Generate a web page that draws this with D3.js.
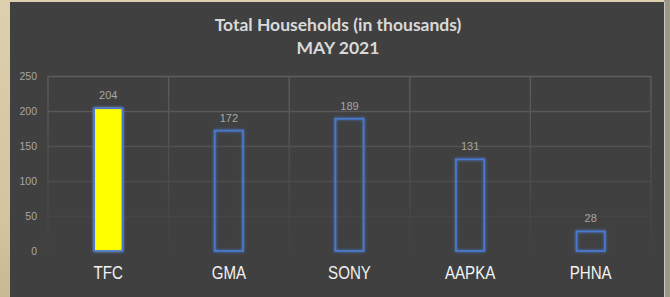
<!DOCTYPE html>
<html lang="en">
<head>
<meta charset="UTF-8">
<script src="https://d3js.org/d3.v7.min.js"></script>
<style>
  body { margin: 0; background: #d6c8a6; }
  svg { display: block; }
  .y-axis text { font-family: "Liberation Sans", Arial, sans-serif; font-size: 10.5px; fill: #a6a6a6; }
  .x-axis text { font-family: "Liberation Sans Narrow", "Arial Narrow", "Liberation Sans", sans-serif; font-size: 18px; fill: #f2f2f2; }
  .label { font-family: "Liberation Sans", Arial, sans-serif; font-size: 11px; fill: #a6a6a6; }
  .title { font-family: Lato, "Open Sans", sans-serif; font-weight: bold; font-size: 17.5px; fill: #d9d9d9; }
</style>
</head>
<body>
<svg id="graph"></svg>
<script>
  const categories = ["TFC", "GMA", "SONY", "AAPKA", "PHNA"];
  const households = [204, 172, 189, 131, 28];
  const highlighted = ["TFC"];
  const yTicks = [0, 50, 100, 150, 200, 250];
  const titleLines = ["Total Households (in thousands)", "MAY 2021"];

  const svgWidth = 670, svgHeight = 297;
  const margin = { top: 76, right: 19, bottom: 46, left: 48 };
  const width = svgWidth - margin.left - margin.right;
  const height = svgHeight - margin.top - margin.bottom;

  const svg = d3.select("#graph").attr("width", svgWidth).attr("height", svgHeight);
  const defs = svg.append("defs");

  // background (textured wall behind the slide)
  const bg = defs.append("linearGradient").attr("id", "bg").attr("x1", 0).attr("y1", 0).attr("x2", 0).attr("y2", 1);
  bg.append("stop").attr("offset", 0).attr("stop-color", "#ddd0ae");
  bg.append("stop").attr("offset", 0.75).attr("stop-color", "#d3c39f");
  bg.append("stop").attr("offset", 1).attr("stop-color", "#c9b892");
  svg.append("rect").attr("width", svgWidth).attr("height", svgHeight).attr("fill", "url(#bg)");
  svg.append("rect").attr("x", 664).attr("width", 6).attr("height", svgHeight).attr("fill", "#9f9786");
  svg.append("rect").attr("x", 10).attr("y", 2).attr("width", 655).attr("height", svgHeight - 2).attr("fill", "#c8c8c8");
  svg.append("rect").attr("x", 10).attr("y", 2).attr("width", 654).attr("height", svgHeight - 2).attr("fill", "#404040");

  const glow = defs.append("filter").attr("id", "glow").attr("x", "-50%").attr("y", "-50%").attr("width", "200%").attr("height", "200%");
  glow.append("feGaussianBlur").attr("in", "SourceGraphic").attr("stdDeviation", 1.6).attr("result", "blur");
  const merge = glow.append("feMerge");
  merge.append("feMergeNode").attr("in", "blur");
  merge.append("feMergeNode").attr("in", "SourceGraphic");

  const vfade = defs.append("linearGradient").attr("id", "vfade")
    .attr("gradientUnits", "userSpaceOnUse").attr("x1", 0).attr("y1", 0).attr("x2", 0).attr("y2", 175);
  vfade.append("stop").attr("offset", 0).attr("stop-color", "#5e5e5e");
  vfade.append("stop").attr("offset", 0.95).attr("stop-color", "#424242");

  const chart = svg.append("g").attr("transform", `translate(${margin.left},${margin.top})`);

  const xScale = d3.scaleBand().domain(categories).range([0, width]).paddingInner(0).paddingOuter(0);
  const yScale = d3.scaleLinear().domain([0, 250]).range([height, 0]);
  const barW = xScale.bandwidth() * 0.235;

  // gridlines, fading towards the bottom
  const gridColor = d3.scaleLinear().domain([0, 250]).range(["#404040", "#5e5e5e"]);
  chart.selectAll(".hgrid").data(yTicks.filter(d => d > 0)).enter().append("line")
    .attr("x1", 0).attr("x2", width)
    .attr("y1", d => yScale(d) + 0.5).attr("y2", d => yScale(d) + 0.5)
    .attr("stroke", d => gridColor(d)).attr("stroke-width", 1.3);
  const bounds = categories.map(c => xScale(c)).concat([width]);
  chart.selectAll(".vgrid").data(bounds).enter().append("line")
    .attr("x1", d => d).attr("x2", d => d)
    .attr("y1", 0).attr("y2", height)
    .attr("stroke", "url(#vfade)").attr("stroke-width", 1.3);

  const data = categories.map((c, i) => ({ name: c, value: households[i] }));

  chart.selectAll(".bar").data(data).enter().append("rect")
    .attr("class", "bar")
    .attr("x", d => xScale(d.name) + (xScale.bandwidth() - barW) / 2)
    .attr("y", d => yScale(d.value))
    .attr("width", barW)
    .attr("height", d => height - yScale(d.value))
    .attr("fill", d => highlighted.includes(d.name) ? "#ffff00" : "none")
    .attr("stroke", "#4a78cc")
    .attr("stroke-width", 1.8)
    .attr("filter", "url(#glow)");

  chart.selectAll(".label").data(data).enter().append("text")
    .attr("class", "label")
    .attr("x", d => xScale(d.name) + xScale.bandwidth() / 2)
    .attr("y", d => yScale(d.value) - 9)
    .attr("text-anchor", "middle")
    .text(d => d.value);

  const yAxis = chart.append("g").attr("class", "y-axis")
    .call(d3.axisLeft(yScale).tickValues(yTicks).tickSize(0).tickPadding(11));
  yAxis.select(".domain").remove();

  const xAxis = chart.append("g").attr("class", "x-axis")
    .attr("transform", `translate(0,${height})`)
    .call(d3.axisBottom(xScale).tickSize(0).tickPadding(15));
  xAxis.select(".domain").remove();
  // condensed look of the original labels
  xAxis.selectAll("text").attr("transform", "scale(0.84,1)");

  svg.selectAll(".title").data(titleLines).enter().append("text")
    .attr("class", "title")
    .attr("x", 338)
    .attr("y", (d, i) => 31 + i * 23)
    .attr("text-anchor", "middle")
    .text(d => d);
</script>
</body>
</html>
